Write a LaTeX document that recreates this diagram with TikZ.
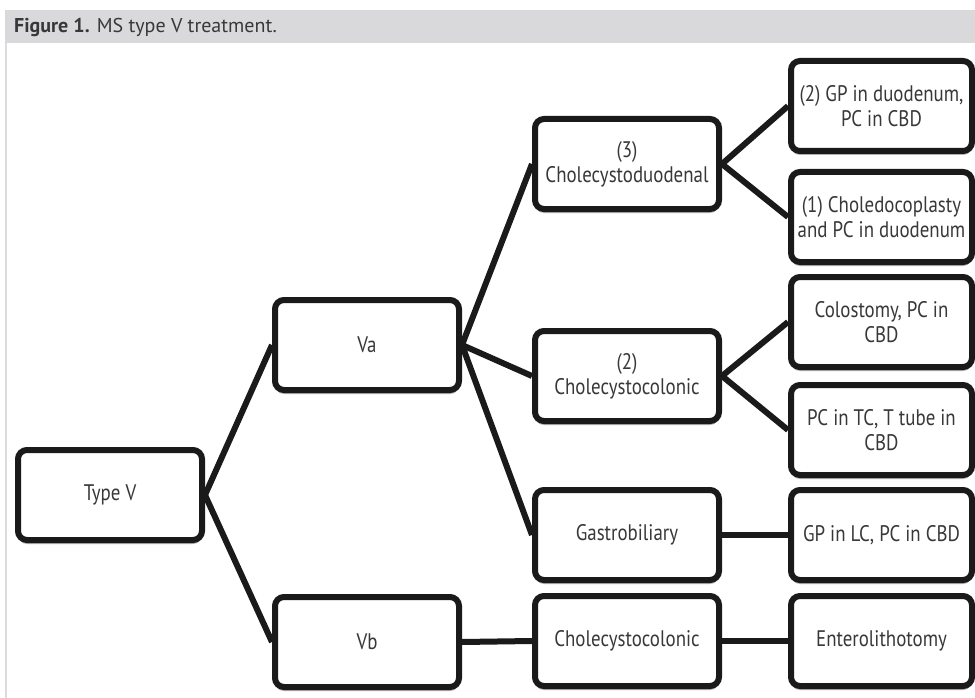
\documentclass[tikz,border=0pt]{standalone}
\usepackage{fontspec}
\setmainfont{PT Sans}[FakeStretch=0.84]
\newfontfamily\titlefont{PT Sans}
\usetikzlibrary{backgrounds,shadows}
\definecolor{barcol}{HTML}{D9D9DB}
\definecolor{framecol}{HTML}{DCDCDE}
\definecolor{txtcol}{HTML}{383838}
\definecolor{edgecol}{HTML}{1A1A1A}
\tikzset{
  box/.style={draw=edgecol, line width=6pt, rounded corners=9pt, fill=white,
    minimum width=184pt, minimum height=90pt, inner sep=0pt, align=center,
    text=txtcol, font=\fontsize{22.5}{25}\selectfont,
    drop shadow={shadow xshift=0pt, shadow yshift=-4pt, opacity=0.3, fill=black}},
  rbox/.style={box, minimum width=181pt},
  link/.style={draw=edgecol, line width=6pt}
}
\begin{document}
\begin{tikzpicture}[x=1pt,y=-1pt]
\useasboundingbox (0,0) rectangle (975,698);
\fill[barcol] (5,10) rectangle (975,43);
\draw[framecol, line width=1.5pt] (6,43) -- (6,698);
\node[anchor=base west, text=txtcol, font=\titlefont\fontsize{20}{22}\selectfont, inner sep=0pt] (title) at (14,33) {\textbf{Figure 1.} MS type V treatment.};

\node[box] (t5) at (110,495) {Type V};
\node[box] (va) at (367,345) {Va};
\node[box] (vb) at (367,642) {Vb};
\node[box] (cd) at (627,164) {(3)\\Cholecystoduodenal};
\node[box] (cc) at (627,376) {(2)\\Cholecystocolonic};
\node[box] (gb) at (627,535) {Gastrobiliary};
\node[box] (cb) at (627,641) {Cholecystocolonic};
\node[rbox] (r1) at (881.5,106) {(2) GP in duodenum,\\PC in CBD};
\node[rbox] (r2) at (881.5,217) {(1) Choledocoplasty\\and PC in duodenum};
\node[rbox] (r3) at (881.5,322) {Colostomy, PC in\\CBD};
\node[rbox] (r4) at (881.5,430) {PC in TC, T tube in\\CBD};
\node[rbox] (r5) at (881.5,535) {GP in LC, PC in CBD};
\node[rbox] (r6) at (881.5,641) {Enterolithotomy};

\begin{pgfonlayer}{background}
\draw[link] (t5.east) -- (va.west);
\draw[link] (t5.east) -- (vb.west);
\draw[link] (va.east) -- (cd.west);
\draw[link] (va.east) -- (cc.west);
\draw[link] (va.east) -- (gb.west);
\draw[link] (vb.east) -- (cb.west);
\draw[link] (cd.east) -- (r1.west);
\draw[link] (cd.east) -- (r2.west);
\draw[link] (cc.east) -- (r3.west);
\draw[link] (cc.east) -- (r4.west);
\draw[link] (gb.east) -- (r5.west);
\draw[link] (cb.east) -- (r6.west);
\end{pgfonlayer}
\end{tikzpicture}
\end{document}
